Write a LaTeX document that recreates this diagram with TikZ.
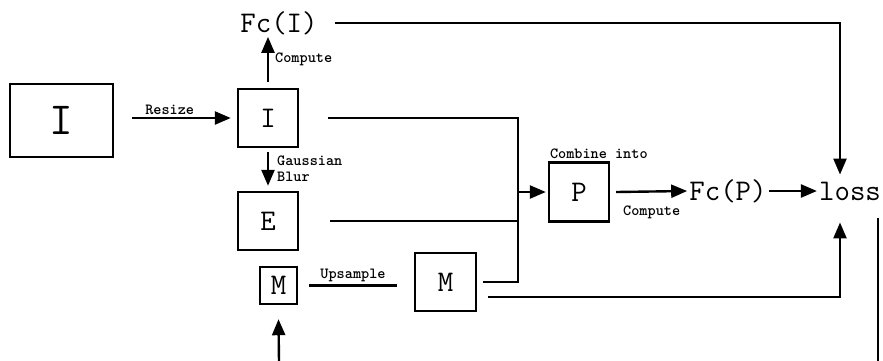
\documentclass[tikz,border=0pt]{standalone}
\usepackage{fontspec}
\setmainfont{Latin Modern Mono}
\newfontfamily\lblfont{lmmonolt10-bold.otf}
\usetikzlibrary{arrows.meta,positioning}

\begin{document}
\begin{tikzpicture}[x=1pt,y=-1pt,
    imgbox/.style={draw,line width=2.4pt,inner sep=0pt,font=\fontsize{30}{32}\selectfont},
    flow/.style={line width=2.4pt},
    flowarr/.style={flow,-{Triangle[length=16pt,width=13pt]}},
    steplbl/.style={font=\lblfont\fontsize{15.5}{16}\selectfont,inner sep=2pt},
    bigtxt/.style={font=\fontsize{30}{32}\selectfont,inner sep=2pt}]
  \useasboundingbox (0,0) rectangle (883,360);

  % image boxes
  \node[imgbox,minimum width=103pt,minimum height=73pt,font=\fontsize{46}{48}\selectfont] (bigI) at (61.5,120.5) {I};
  \node[imgbox,minimum width=60pt,minimum height=58pt] (smallI) at (268,118) {I};
  \node[imgbox,minimum width=60pt,minimum height=58pt] (E) at (268,221) {E};
  \node[imgbox,minimum size=37pt] (Msm) at (278.5,285.5) {M};
  \node[imgbox,minimum width=61pt,minimum height=58pt] (Mbig) at (445.5,282) {M};
  \node[imgbox,minimum width=60pt,minimum height=59pt] (P) at (579,192) {P};
  \node[steplbl,anchor=south west] (combinelbl) at (P.north west) {Combine into};

  % features and loss
  \node[bigtxt] (FcI) at (279,23) {Fc(I)};
  \node[bigtxt] (FcP) at (728,191) {Fc(P)};
  \node[bigtxt] (loss) at (850,191) {loss};

  \coordinate (jn) at (518,0);
  \coordinate (lossin) at (840,0);
  \coordinate (mbot) at (279,362);
  \coordinate (mout) at ([shift={(11pt,-15pt)}]Mbig.east);
  \coordinate (rtop) at (878,218);
  \coordinate (rbot) at (878,362);

  % connectors
  \draw[flowarr] ([xshift=18pt]bigI.east |- smallI.west) -- ([xshift=-6pt]smallI.west)
    node[pos=0.38,above,steplbl] {Resize};
  \draw[flowarr] ([yshift=6pt]smallI.north) -- (smallI.north |- FcI.south)
    node[midway,right,steplbl,xshift=4pt] {Compute};
  \draw[flowarr] ([yshift=-4pt]smallI.south) -- ([yshift=5pt]E.north)
    node[midway,right,steplbl,align=left,xshift=6pt] {Gaussian\\Blur};
  \draw[flow] ([xshift=11pt]Msm.east) -- ([xshift=-17pt]Mbig.west |- Msm.east)
    node[midway,above,steplbl] {Upsample};
  \draw[flowarr] (mbot) -- ([yshift=-14pt]Msm.south);

  % merge into P
  \draw[flow] ([xshift=29pt]smallI.east) -- (jn |- smallI.east) -- (jn |- Mbig.east) -- ([xshift=6pt]Mbig.east);
  \draw[flow] ([xshift=31pt]E.east) -- (jn |- E.east);
  \draw[flowarr] (jn |- P.west) -- ([xshift=-2pt]P.west);
  \draw[flowarr] ([xshift=6pt]P.east) -- (FcP.west)
    node[midway,below=11pt,steplbl] {Compute};
  \draw[flowarr] (FcP) -- (loss);

  % into loss
  \draw[flowarr] ([xshift=15pt]FcI.east) -- (lossin |- FcI.east) -- ([yshift=5pt]lossin |- loss.north);
  \draw[flowarr] (mout) -- (lossin |- mout) -- ([yshift=-20pt]lossin |- loss.south);
  \draw[flow] (rtop) -- (rbot);
\end{tikzpicture}
\end{document}
